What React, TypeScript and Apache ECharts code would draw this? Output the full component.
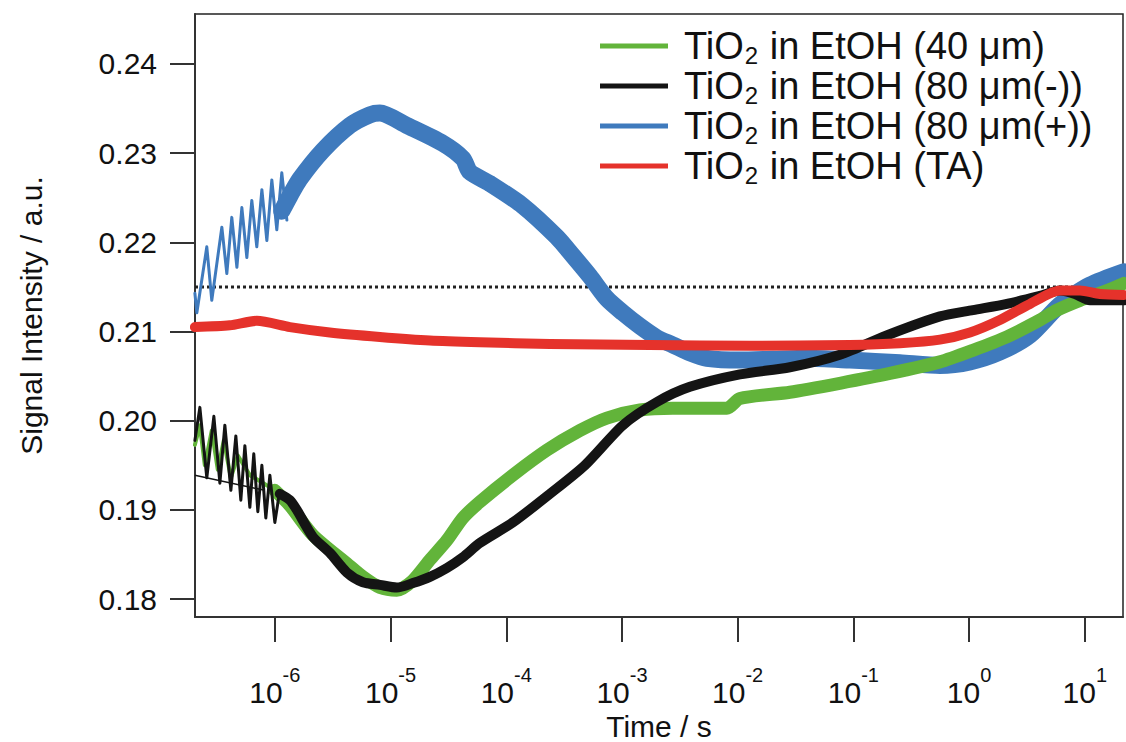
import React, { useEffect, useRef } from "react";
import * as echarts from "echarts";

// x range (log10 of time in s) and y range
const X_MIN_EXP = -6.69;
const X_MAX_EXP = 1.33;
const Y_MIN = 0.178;
const Y_MAX = 0.2456;

const xTickExps = [-6, -5, -4, -3, -2, -1, 0, 1];
const yTicks = [0.18, 0.19, 0.2, 0.21, 0.22, 0.23, 0.24];
const referenceLevel = 0.215;

const seriesNames = [
  "TiO2 in EtOH (40 μm)",
  "TiO2 in EtOH (80 μm(-))",
  "TiO2 in EtOH (80 μm(+))",
  "TiO2 in EtOH (TA)",
];

// log10(time / s) and signal values
// early oscillating parts (thin traces)
const greenEarlyLogT = [-6.691, -6.648, -6.605, -6.545, -6.493, -6.441, -6.38, -6.32, -6.216, -6.112, -6.0];
const greenEarlyV = [0.1973, 0.1995, 0.195, 0.1989, 0.1945, 0.1978, 0.1936, 0.1961, 0.1939, 0.1931, 0.1922];
// main noisy band (centre line)
const greenLogT = [-6.0, -5.87, -5.672, -5.378, -5.239, -5.092, -4.946, -4.807, -4.66, -4.513, -4.375, -4.228, -3.943, -3.649, -3.364, -3.131, -2.845, -2.56, -2.093, -1.981, -1.549, -1.117, -0.685, -0.252, 0.033, 0.327, 0.612, 0.759, 0.958, 1.191, 1.338];
const greenV = [0.1922, 0.1905, 0.1872, 0.184, 0.1825, 0.1813, 0.181, 0.1821, 0.1844, 0.1866, 0.1891, 0.1909, 0.1939, 0.1967, 0.1989, 0.2003, 0.2012, 0.2014, 0.2014, 0.2025, 0.2032, 0.2042, 0.2053, 0.2066, 0.2079, 0.2094, 0.2113, 0.2124, 0.2135, 0.2146, 0.2154];

const blackEarlyLogT = [-6.691, -6.648, -6.588, -6.527, -6.475, -6.432, -6.38, -6.337, -6.294, -6.259, -6.216, -6.182, -6.147, -6.112, -6.078, -6.043, -6.0, -5.957];
const blackEarlyV = [0.1978, 0.2015, 0.1936, 0.2005, 0.193, 0.1995, 0.1922, 0.1983, 0.1911, 0.1972, 0.1903, 0.1963, 0.1898, 0.195, 0.1891, 0.1939, 0.1886, 0.1922];
const blackLogT = [-5.957, -5.87, -5.81, -5.672, -5.525, -5.378, -5.239, -5.092, -4.946, -4.807, -4.66, -4.513, -4.375, -4.228, -3.943, -3.623, -3.321, -2.992, -2.698, -2.413, -1.981, -1.549, -1.117, -0.685, -0.252, 0.033, 0.327, 0.612, 0.785, 0.915, 1.044, 1.338];
const blackV = [0.1918, 0.1911, 0.19, 0.187, 0.1852, 0.183, 0.1819, 0.1816, 0.1813, 0.1818, 0.1825, 0.1835, 0.1847, 0.1863, 0.1886, 0.1918, 0.195, 0.1995, 0.2021, 0.2038, 0.2052, 0.206, 0.2074, 0.2097, 0.2117, 0.2124, 0.2131, 0.214, 0.2146, 0.2142, 0.2135, 0.2135];

// thin straight trace under the early black oscillations
const blackBaseLogT = [-6.691, -6.086];
const blackBaseV = [0.1939, 0.1922];

const blueEarlyLogT = [-6.691, -6.674, -6.588, -6.545, -6.458, -6.415, -6.372, -6.328, -6.285, -6.242, -6.199, -6.156, -6.112, -6.069, -6.026, -5.983, -5.94, -5.896];
const blueEarlyV = [0.2143, 0.2121, 0.2195, 0.2135, 0.2217, 0.2165, 0.2228, 0.2172, 0.2239, 0.2183, 0.2247, 0.2195, 0.2259, 0.2202, 0.227, 0.2214, 0.2278, 0.2225];
const blueLogT = [-5.94, -5.87, -5.784, -5.585, -5.352, -5.179, -5.092, -4.859, -4.548, -4.375, -4.315, -4.142, -3.857, -3.563, -3.424, -3.277, -3.131, -2.992, -2.845, -2.698, -2.56, -2.413, -2.266, -1.981, -1.696, -1.402, -1.03, -0.598, -0.252, 0.007, 0.266, 0.526, 0.785, 1.044, 1.338];
const blueV = [0.2235, 0.2252, 0.2271, 0.2303, 0.2331, 0.2343, 0.2345, 0.2331, 0.2311, 0.2294, 0.2279, 0.2266, 0.2241, 0.2206, 0.2185, 0.2162, 0.2137, 0.2121, 0.2106, 0.2093, 0.2085, 0.2076, 0.207, 0.2068, 0.2069, 0.207, 0.2068, 0.2065, 0.2062, 0.2066, 0.2077, 0.2096, 0.213, 0.2152, 0.2167];

const redLogT = [-6.691, -6.389, -6.156, -5.87, -5.525, -5.092, -4.66, -4.228, -3.623, -2.759, -1.895, -1.03, -0.598, -0.252, 0.007, 0.266, 0.526, 0.785, 0.958, 1.131, 1.338];
const redV = [0.2105, 0.2107, 0.2112, 0.2105, 0.2099, 0.2094, 0.209, 0.2088, 0.2086, 0.2085, 0.2084, 0.2085, 0.2087, 0.2091, 0.2099, 0.2113, 0.2131, 0.2146, 0.2146, 0.2142, 0.2141];

const colors = {
  green: "#62b43a",
  black: "#141414",
  blue: "#3f7abd",
  red: "#e5322b",
};

const FONT = "'Liberation Sans', Arial, Helvetica, sans-serif";

function pairs(logT: number[], v: number[]) {
  return logT.map((e, i) => [Math.pow(10, e), v[i]]);
}

function legendLabel(name: string) {
  return "{t|TiO}{sub|2}{t|" + name.slice(4) + "}";
}

export default function App() {
  const ref = useRef<HTMLDivElement>(null);

  useEffect(() => {
    if (!ref.current) return;
    const chart = echarts.init(ref.current, undefined, { renderer: "svg" });
    const xMin = Math.pow(10, X_MIN_EXP);
    const xMax = Math.pow(10, X_MAX_EXP);
    const lineSeries = (
      name: string,
      data: number[][],
      color: string,
      width: number,
      smooth: number | boolean
    ) => ({
      name,
      type: "line",
      data,
      showSymbol: false,
      symbol: "none",
      smooth,
      lineStyle: { color, width, join: "round", cap: "round" },
      itemStyle: { color },
      silent: true,
    });

    chart.setOption({
      animation: false,
      backgroundColor: "#ffffff",
      grid: {
        left: 195,
        right: 3,
        top: 14,
        bottom: 125,
        outerBoundsMode: "none",
        containLabel: false,
        show: true,
        borderColor: "#222",
        borderWidth: 1.5,
        backgroundColor: "transparent",
      },
      legend: {
        orient: "vertical",
        left: 600,
        top: 27,
        padding: 0,
        itemGap: 0,
        itemWidth: 68,
        itemHeight: 5,
        icon: "rect",
        data: seriesNames,
        selectedMode: false,
        formatter: (name: string) => legendLabel(name),
        textStyle: {
          fontFamily: FONT,
          color: "#111",
          padding: [0, 0, 0, 11],
          rich: {
            t: { fontFamily: FONT, fontSize: 38, lineHeight: 38, color: "#111", verticalAlign: "top" },
            sub: { fontFamily: FONT, fontSize: 24, lineHeight: 24, color: "#111", verticalAlign: "top", padding: [16, 1, 0, 1] },
          },
        },
      },
      xAxis: {
        type: "log",
        logBase: 10,
        min: xMin,
        max: xMax,
        name: "Time / s",
        nameLocation: "middle",
        nameGap: 90,
        nameTextStyle: { fontFamily: FONT, fontSize: 30, lineHeight: 30, color: "#111" },
        axisLine: { show: true, onZero: false, lineStyle: { color: "#333", width: 2 } },
        axisTick: {
          show: true,
          inside: false,
          length: 25,
          lineStyle: { color: "#333", width: 2 },
          customValues: xTickExps.map((e) => Math.pow(10, e)),
        },
        minorTick: { show: false },
        splitLine: { show: false },
        axisLabel: {
          margin: 48,
          customValues: xTickExps.map((e) => Math.pow(10, e)),
          formatter: (val: number) => "{b|10}{s|" + Math.round(Math.log10(val)) + "}",
          rich: {
            b: { fontFamily: FONT, fontSize: 30, lineHeight: 30, color: "#111", verticalAlign: "top", padding: [12, 0, 0, 0] },
            s: { fontFamily: FONT, fontSize: 20, lineHeight: 20, color: "#111", verticalAlign: "top" },
          },
        },
      },
      yAxis: {
        type: "value",
        min: Y_MIN,
        max: Y_MAX,
        name: "Signal Intensity / a.u.",
        nameLocation: "middle",
        nameGap: 149,
        nameTextStyle: { fontFamily: FONT, fontSize: 30, color: "#111" },
        axisLine: { show: true, onZero: false, lineStyle: { color: "#333", width: 2 } },
        axisTick: {
          show: true,
          inside: false,
          length: 25,
          lineStyle: { color: "#333", width: 2 },
          customValues: yTicks,
        },
        splitLine: { show: false },
        axisLabel: {
          margin: 38,
          customValues: yTicks,
          fontFamily: FONT,
          fontSize: 30,
          color: "#111",
          formatter: (val: number) => val.toFixed(2),
        },
      },
      series: [
        {
          name: "reference",
          type: "line",
          data: [
            [xMin, referenceLevel],
            [xMax, referenceLevel],
          ],
          showSymbol: false,
          symbol: "none",
          lineStyle: { color: "#222", width: 3, type: [3, 3] },
          silent: true,
        },
        lineSeries(seriesNames[2], pairs(blueEarlyLogT, blueEarlyV), colors.blue, 3, false),
        lineSeries(seriesNames[2], pairs(blueLogT, blueV), colors.blue, 17, 0.25),
        lineSeries(seriesNames[0], pairs(greenEarlyLogT, greenEarlyV), colors.green, 4, false),
        lineSeries(seriesNames[0], pairs(greenLogT, greenV), colors.green, 13, 0.25),
        lineSeries(seriesNames[1], pairs(blackEarlyLogT, blackEarlyV), colors.black, 3, false),
        lineSeries(seriesNames[1], pairs(blackLogT, blackV), colors.black, 10, 0.25),
        {
          name: "baseline",
          type: "line",
          data: pairs(blackBaseLogT, blackBaseV),
          showSymbol: false,
          symbol: "none",
          lineStyle: { color: colors.black, width: 1.5 },
          silent: true,
        },
        lineSeries(seriesNames[3], pairs(redLogT, redV), colors.red, 10, 0.25),
      ],
    });
    return () => chart.dispose();
  }, []);

  return (
    <div
      ref={ref}
      style={{ position: "fixed", left: 0, top: 0, width: 1126, height: 742, background: "#fff" }}
    />
  );
}
